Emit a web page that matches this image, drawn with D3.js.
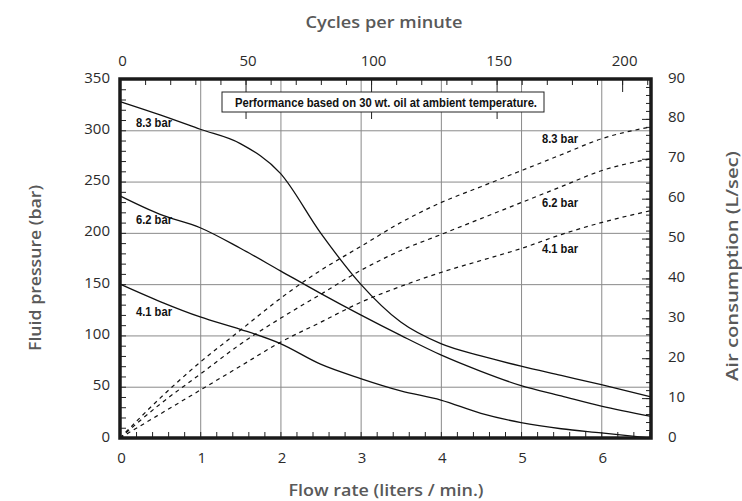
<!DOCTYPE html>
<html>
<head>
<meta charset="utf-8">
<script src="https://cdn.jsdelivr.net/npm/d3@7"></script>
<style>
  body { margin: 0; background: #fff; }
  svg { display: block; }
</style>
</head>
<body>
<div id="chart"></div>
<script>
// flow rate (L/min) sample points shared by all curves
var flow = [0, 0.5, 1.0, 1.5, 2.0, 2.5, 3.0, 3.5, 4.0, 4.5, 5.0, 5.5, 6.0, 6.62];

// fluid pressure (bar), left axis
var pressure_83 = [328, 315, 301, 287, 258, 200, 150, 113, 92, 80, 70, 61, 52, 40];
var pressure_62 = [236, 218, 205, 185, 163, 141, 120, 100, 81, 65, 51, 41, 31, 21];
var pressure_41 = [150, 133, 118, 106, 92, 72, 58, 46, 37, 24, 15, 9, 5, 0];

// air consumption (L/sec), right axis
var air_83 = [0, 10, 19, 27, 35, 42, 48, 54, 59, 63, 67, 71, 75, 78];
var air_62 = [0, 8.5, 16, 23.5, 30, 36, 42, 47, 51, 55, 59, 63, 67, 70];
var air_41 = [0, 6, 12, 18, 24, 29, 34, 38, 41.5, 44.5, 47.5, 51, 54, 57];

var seriesLabels = ["8.3 bar", "6.2 bar", "4.1 bar"];

var xTicks = [0, 1, 2, 3, 4, 5, 6];
var cycleTicks = [0, 50, 100, 150, 200];
var yTicks = [0, 50, 100, 150, 200, 250, 300, 350];
var yRTicks = [0, 10, 20, 30, 40, 50, 60, 70, 80, 90];

var width = 742, height = 501;
var margin = {top: 79, right: 91, bottom: 63, left: 120};
var x0 = margin.left, x1 = width - margin.right;
var y0 = height - margin.bottom, y1 = margin.top;

var svg = d3.select("#chart").append("svg")
    .attr("width", width)
    .attr("height", height);

//Scales
var x = d3.scaleLinear().domain([0, 6.62]).range([x0, x1]);
var xTop = d3.scaleLinear().domain([0, 211.5]).range([x0, x1]);
var y = d3.scaleLinear().domain([0, 350]).range([y0, y1]);
var yR = d3.scaleLinear().domain([0, 90]).range([y0, y1]);

var tickFont = "'Open Sans', 'Liberation Sans', sans-serif";
var narrowFont = "'Liberation Sans Narrow', 'Liberation Sans', Arial, sans-serif";

//Gridlines
svg.append("g")
    .attr("transform", "translate(0," + y0 + ")")
    .call(d3.axisBottom(x).tickValues([1, 2, 3, 4, 5, 6]).tickSize(-(y0 - y1)).tickFormat(""))
    .call(function(g) { g.select(".domain").remove(); })
    .selectAll("line").attr("stroke", "#8a8a8a").attr("stroke-width", 1);

svg.append("g")
    .attr("transform", "translate(" + x0 + ",0)")
    .call(d3.axisLeft(y).tickValues([50, 100, 150, 200, 250, 300]).tickSize(-(x1 - x0)).tickFormat(""))
    .call(function(g) { g.select(".domain").remove(); })
    .selectAll("line").attr("stroke", "#8a8a8a").attr("stroke-width", 1);

//Minor ticks (inward)
function minor(axis, transform, size) {
    svg.append("g")
        .attr("transform", transform)
        .call(axis.tickSize(size).tickFormat(""))
        .call(function(g) { g.select(".domain").remove(); })
        .selectAll("line").attr("stroke", "#222").attr("stroke-width", 1);
}
minor(d3.axisBottom(x).tickValues(d3.range(0, 34).map(function(i) { return i * 0.2; })),
      "translate(0," + y0 + ")", -6);
minor(d3.axisTop(xTop).tickValues(d3.range(0, 220, 10)), "translate(0," + y1 + ")", -6);
minor(d3.axisTop(xTop).tickValues([50, 100, 150]), "translate(0," + y1 + ")", -40);
minor(d3.axisTop(xTop).tickValues([200]), "translate(0," + y1 + ")", -13);
minor(d3.axisLeft(y).tickValues(d3.range(0, 351, 10)), "translate(" + x0 + ",0)", -6);
minor(d3.axisRight(yR).tickValues(d3.range(0, 91, 2)), "translate(" + x1 + ",0)", -5);
minor(d3.axisRight(yR).tickValues(yRTicks), "translate(" + x1 + ",0)", -9);

//Labelled axes
function labels(axis, transform, dx, dy) {
    var g = svg.append("g")
        .attr("transform", transform)
        .call(axis.tickSize(0).tickPadding(0));
    g.select(".domain").remove();
    g.selectAll("text")
        .attr("font-family", tickFont)
        .attr("font-size", 15)
        .attr("fill", "#2b2b2b")
        .attr("dx", dx).attr("dy", dy);
}
labels(d3.axisBottom(x).tickValues(xTicks).tickFormat(d3.format("d")), "translate(0," + y0 + ")", 1, 25);
labels(d3.axisTop(xTop).tickValues(cycleTicks).tickFormat(d3.format("d")), "translate(0," + y1 + ")", 2, -13);
labels(d3.axisLeft(y).tickValues(yTicks).tickFormat(d3.format("d")), "translate(" + x0 + ",3)", -10, 0);
labels(d3.axisRight(yR).tickValues(yRTicks).tickFormat(d3.format("d")), "translate(" + x1 + ",3)", 17, 0);

//Curves
var linePressure = d3.line()
    .x(function(d) { return x(d[0]); })
    .y(function(d) { return y(d[1]); })
    .curve(d3.curveMonotoneX);
var lineAir = d3.line()
    .x(function(d) { return x(d[0]); })
    .y(function(d) { return yR(d[1]); })
    .curve(d3.curveMonotoneX);

[pressure_83, pressure_62, pressure_41].forEach(function(p) {
    svg.append("path")
        .attr("d", linePressure(d3.zip(flow, p)))
        .attr("fill", "none")
        .attr("stroke", "#111")
        .attr("stroke-width", 1.3);
});

[air_83, air_62, air_41].forEach(function(a) {
    svg.append("path")
        .attr("d", lineAir(d3.zip(flow, a)))
        .attr("fill", "none")
        .attr("stroke", "#111")
        .attr("stroke-width", 1.2)
        .attr("stroke-dasharray", "4,4");
});

//Curve labels
var leftLabelY = [127, 224, 316];
var rightLabelY = [143, 207, 253];
seriesLabels.forEach(function(s, i) {
    svg.append("text").attr("x", 136).attr("y", leftLabelY[i]).text(s)
        .attr("font-family", narrowFont).attr("font-weight", "bold")
        .attr("font-size", 12.5).attr("fill", "#111")
        .attr("textLength", 36).attr("lengthAdjust", "spacingAndGlyphs");
    svg.append("text").attr("x", 542).attr("y", rightLabelY[i]).text(s)
        .attr("font-family", narrowFont).attr("font-weight", "bold")
        .attr("font-size", 12.5).attr("fill", "#111")
        .attr("textLength", 36).attr("lengthAdjust", "spacingAndGlyphs");
});

//Note box
svg.append("rect")
    .attr("x", 222).attr("y", 92).attr("width", 322).attr("height", 20)
    .attr("fill", "#fff").attr("stroke", "#222").attr("stroke-width", 1);
svg.append("text")
    .attr("x", 386).attr("y", 106.5)
    .attr("text-anchor", "middle")
    .attr("font-family", narrowFont).attr("font-weight", "bold")
    .attr("font-size", 12).attr("fill", "#111")
    .attr("textLength", 302).attr("lengthAdjust", "spacingAndGlyphs")
    .text("Performance based on 30 wt. oil at ambient temperature.");

//Frame
svg.append("rect")
    .attr("x", x0).attr("y", y1)
    .attr("width", x1 - x0).attr("height", y0 - y1)
    .attr("fill", "none").attr("stroke", "#1a1a1a").attr("stroke-width", 3.5);

//Axis titles
function title(txt, tx, ty, rot, len) {
    svg.append("text")
        .attr("transform", "translate(" + tx + "," + ty + ") rotate(" + rot + ")")
        .attr("text-anchor", "middle")
        .attr("font-family", tickFont).attr("font-weight", 600)
        .attr("font-size", 17).attr("fill", "#595959")
        .attr("textLength", len).attr("lengthAdjust", "spacingAndGlyphs")
        .text(txt);
}
title("Cycles per minute", 384, 28, 0, 157);
title("Flow rate (liters / min.)", 386, 496, 0, 195);
title("Fluid pressure (bar)", 41, 268, -90, 166);
title("Air consumption (L/sec)", 738, 266, -90, 230);
</script>
</body>
</html>
